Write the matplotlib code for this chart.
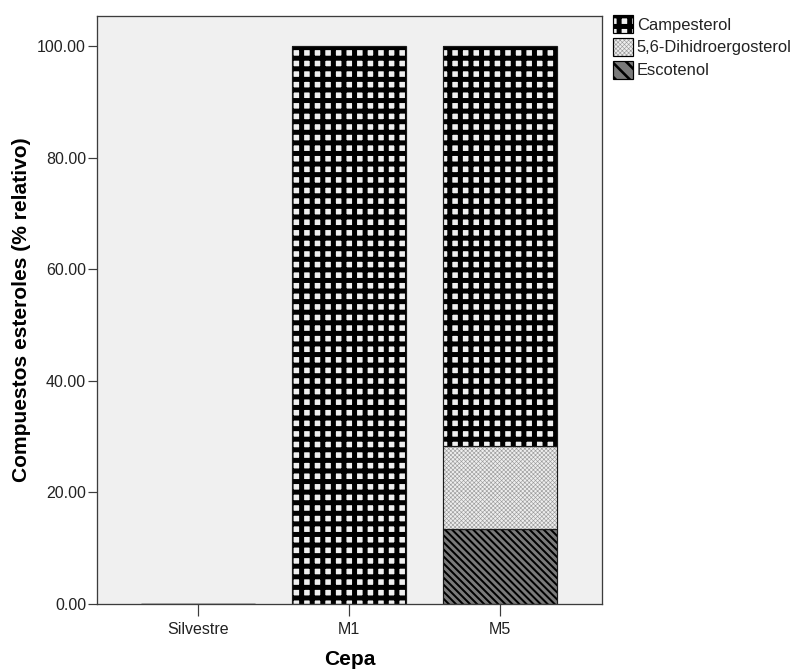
import matplotlib
matplotlib.use("Agg")
import matplotlib.pyplot as plt
import matplotlib.colors as mcolors
import numpy as np

DPI = 127
W, H = 797, 669

def pt(px):
    return px * 72.0 / DPI

categories = ["Silvestre", "M1", "M5"]
escotenol = [0.0, 0.0, 13.4]
dihidroergosterol = [0.0, 0.0, 14.9]
campesterol = [0.0, 100.0, 71.7]
series_names = ["Campesterol", "5,6-Dihidroergosterol", "Escotenol"]
yticks = [0, 20, 40, 60, 80, 100]

plt.rcParams['font.family'] = ['Liberation Sans', 'DejaVu Sans']

BS = chr(92)
styles = {
    "Campesterol": dict(face='#f0f0f0', hatch='++', lhatch='++', hcolor='black', hlw=pt(5.0)),
    "5,6-Dihidroergosterol": dict(face='#eeeeee', hatch='x' * 10, lhatch='x' * 10,
                                  hcolor='#9a9a9a', hlw=pt(0.6)),
    "Escotenol": dict(face='#7a7a7a', hatch=BS * 6, lhatch=BS * 3, hcolor='black', hlw=pt(2.0)),
}

def set_hatch_props(p, s, lw=None):
    lw = s['hlw'] if lw is None else lw
    if hasattr(p, 'set_hatch_linewidth'):
        p.set_hatch_linewidth(lw)
    else:
        p._hatch_linewidth = lw
    p._hatch_color = mcolors.to_rgba(s['hcolor'])

fig = plt.figure(figsize=(W / DPI, H / DPI), dpi=DPI)
fig.patch.set_facecolor('white')
ax = fig.add_axes([97 / W, 1 - 604 / H, (602 - 97) / W, (604 - 16) / H])
ax.set_facecolor('#f0f0f0')

x = np.arange(len(categories))
width = 0.75

def hatched_bar(axis, xs, vals, bottom, name):
    s = styles[name]
    with plt.rc_context({'hatch.linewidth': s['hlw'], 'hatch.color': s['hcolor']}):
        bars = axis.bar(xs, vals, width, bottom=bottom, color=s['face'],
                        edgecolor=s['hcolor'], hatch=s['hatch'], linewidth=0)
    for b in bars:
        set_hatch_props(b, s)
    axis.bar(xs, vals, width, bottom=bottom, fill=False,
             edgecolor='#1a1a1a', linewidth=pt(1.2))
    return bars

esc = np.array(escotenol)
dih = np.array(dihidroergosterol)
cam = np.array(campesterol)

hatched_bar(ax, x, esc, 0, "Escotenol")
hatched_bar(ax, x, dih, esc, "5,6-Dihidroergosterol")
hatched_bar(ax, x, cam, esc + dih, "Campesterol")

ax.set_xlim(-0.669, 2.676)
ax.set_ylim(0, 105.4)
ax.set_xticks(x)
ax.set_xticklabels(categories)
ax.set_yticks(yticks)
ax.set_yticklabels([f"{v:.2f}" for v in yticks])

for sp in ax.spines.values():
    sp.set_color('#3c3c3c')
    sp.set_linewidth(pt(1.3))

ax.tick_params(axis='y', length=pt(9), width=pt(1.2), color='#3c3c3c',
               labelsize=pt(16), labelcolor='#222222', pad=pt(2))
ax.tick_params(axis='x', length=pt(12), width=pt(1.2), color='#3c3c3c',
               labelsize=pt(16), labelcolor='#222222', pad=pt(6))

ax.set_xlabel("Cepa", fontsize=pt(21), fontweight='bold', labelpad=pt(13))
ax.set_ylabel("Compuestos esteroles (% relativo)", fontsize=pt(21),
              fontweight='bold', labelpad=pt(6))

from matplotlib.patches import Patch
handles = []
for name in series_names:
    s = styles[name]
    p = Patch(facecolor=s['face'], edgecolor='black', hatch=s['lhatch'],
              linewidth=pt(1.2))
    handles.append(p)

fs = 16.5
leg = fig.legend(handles, series_names, loc='upper left',
                 bbox_to_anchor=(613 / W, 1 - 15 / H), frameon=False,
                 fontsize=pt(fs), borderpad=0, borderaxespad=0,
                 handlelength=20 / fs, handleheight=1.3,
                 handletextpad=0.22, labelspacing=0.3)
leg_lw = {"Campesterol": pt(5.0), "5,6-Dihidroergosterol": pt(0.6), "Escotenol": pt(2.6)}
for p, name in zip(leg.get_patches(), series_names):
    p.set_edgecolor('black')
    set_hatch_props(p, styles[name], leg_lw[name])
for t in leg.get_texts():
    t.set_color('#222222')

fig.savefig("out.png", dpi=DPI, facecolor='white')
